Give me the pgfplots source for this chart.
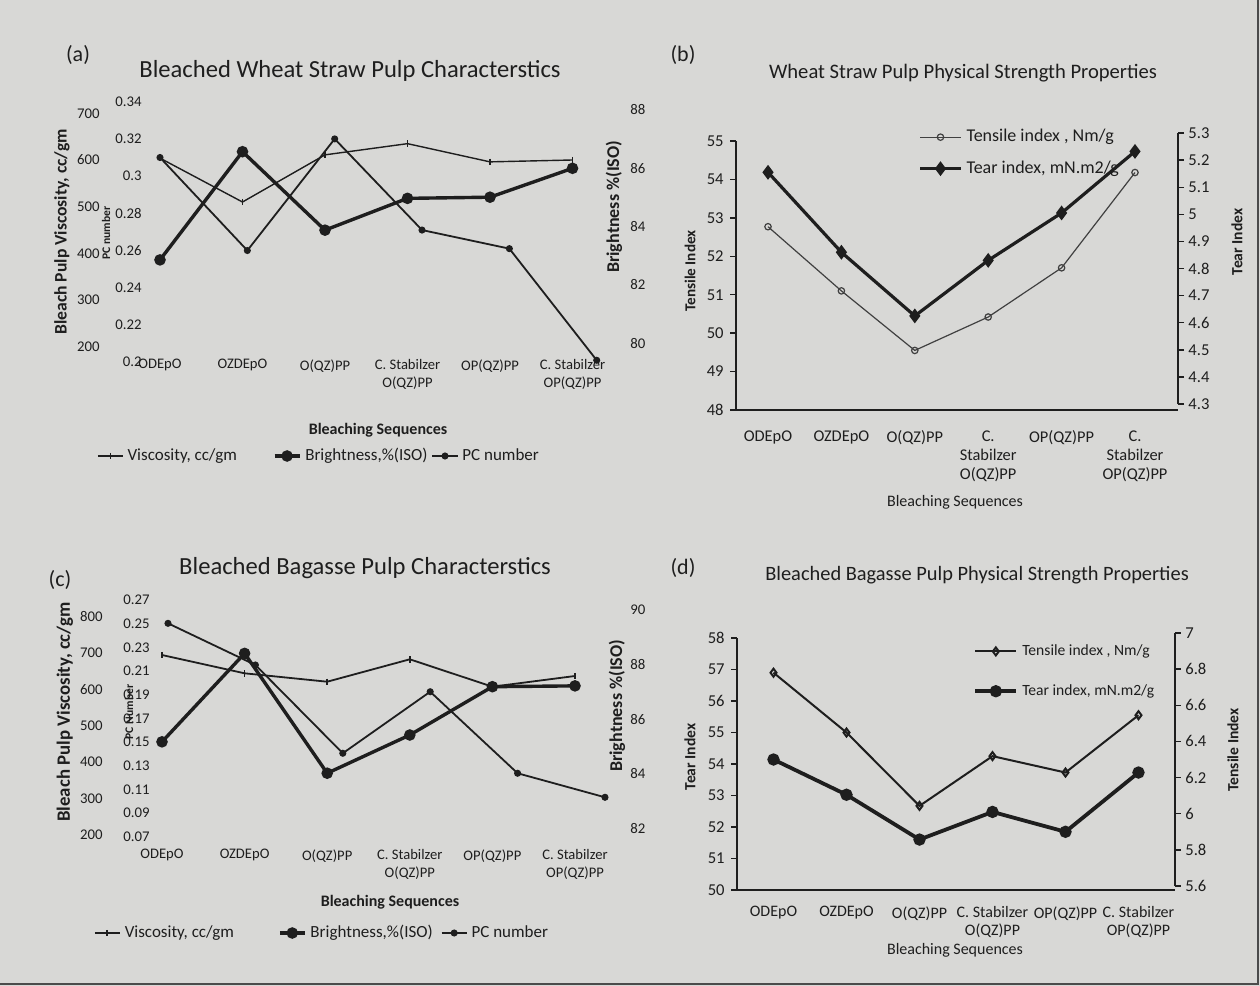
\documentclass[border=0pt]{standalone}
\usepackage{fontspec}
\setmainfont{Carlito}
\usepackage{pgfplots}
\pgfplotsset{compat=1.18}
\definecolor{bg}{HTML}{D8D8D6}
\definecolor{ink}{HTML}{1E1E1E}
\newcommand{\fsz}[2]{\fontsize{#1}{#2}\selectfont}
\pgfplotsset{
  every axis title shift=0pt,
  every axis/.append style={scale only axis, clip=false, anchor=south west},
  noframe/.style={axis line style={draw=none}, major tick length=0pt},
  catlabels/.style={xtick={0,1,2,3,4,5},
    xticklabels={ODEpO,OZDEpO,O(QZ)PP,{C. Stabilzer\\O(QZ)PP},OP(QZ)PP,{C. Stabilzer\\OP(QZ)PP}}},
  shortleg/.style={legend image code/.code={\draw[mark repeat=2,mark phase=2,##1] plot coordinates {(0cm,0cm) (0.22cm,0cm) (0.44cm,0cm)};}},
  longleg/.style={legend image code/.code={\draw[mark repeat=2,mark phase=2,##1] plot coordinates {(0cm,0cm) (0.36cm,0cm) (0.72cm,0cm)};}},
}
\begin{document}
\begin{tikzpicture}[text=ink]
\useasboundingbox (0,0) rectangle (630pt,-493pt);
\fill[bg] (0,0) rectangle (630pt,-493pt);
\draw[ink!80, line width=1.2pt] (629pt,0pt) -- (629pt,-492pt) -- (0pt,-492pt);

% ================= Panel (a) =================
\begin{axis}[noframe, at={(65pt,-185pt)}, width=242.5pt, height=137.5pt,
  xmin=-0.3636, xmax=5.5152, ymin=150.1, ymax=739.2, catlabels,
  xticklabel style={font=\fsz{7.3}{9}, align=center, anchor=north, inner sep=0pt, yshift=5.5pt},
  ytick={200,300,400,500,600,700}, yticklabels={200,300,400,500,600,700},
  yticklabel style={font=\fsz{7.4}{9}, anchor=east, inner sep=0pt, xshift=-15pt},
  title={Bleached Wheat Straw Pulp Characterstics},
  title style={at={(axis description cs:0.4536,1.0982)}, anchor=center, yshift=-1.5pt, font=\fsz{12.3}{14}},
  xlabel={Bleaching Sequences},
  xlabel style={at={(axis description cs:0.5113,-0.2182)}, anchor=center, font=\bfseries\fsz{8}{10}},
  ylabel={Bleach Pulp Viscosity, cc/gm},
  ylabel style={at={(axis description cs:-0.1402,0.502)}, anchor=center, font=\bfseries\fsz{8.8}{10}},
]
\addplot[ink, line width=0.7pt, mark=|, mark size=1.6pt] coordinates {(0,604) (1,510) (2,611) (3,635) (4,596) (5,600)};
\end{axis}
\begin{axis}[noframe, at={(65pt,-185pt)}, width=242.5pt, height=137.5pt,
  xmin=-0.3435, xmax=5.2095, ymin=0.19576, ymax=0.3436, xtick=\empty,
  ytick={0.2,0.22,0.24,0.26,0.28,0.3,0.32,0.34}, yticklabels={0.2,0.22,0.24,0.26,0.28,0.3,0.32,0.34},
  yticklabel style={font=\fsz{7.4}{9}, anchor=east, inner sep=0pt, xshift=6pt},
  ylabel={PC number},
  ylabel style={at={(axis description cs:-0.0495,0.498)}, anchor=center, font=\bfseries\fsz{5.8}{7}},
]
\addplot[ink, line width=0.9pt, mark=*, mark size=1.3pt] coordinates {(0,0.310) (1,0.260) (2,0.320) (3,0.271) (4,0.261) (5,0.201)};
\end{axis}
\begin{axis}[noframe, at={(65pt,-185pt)}, width=242.5pt, height=137.5pt,
  xmin=-0.3636, xmax=5.5152, ymin=79.084, ymax=88.514, xtick=\empty,
  ytick={80,82,84,86,88}, yticklabels={80,82,84,86,88}, yticklabel pos=right,
  yticklabel style={font=\fsz{7.4}{9}, anchor=west, inner sep=0pt, xshift=7.5pt},
  ylabel={Brightness \%(ISO)},
  ylabel style={at={(axis description cs:0.998,0.5927)}, anchor=center, font=\bfseries\fsz{9}{10}},
  shortleg, legend columns=3,
  legend style={at={(axis description cs:0.3918,-0.3127)}, anchor=center, draw=none, fill=none,
    font=\fsz{8.5}{10}, /tikz/column 2/.style={column sep=16pt}, /tikz/column 4/.style={column sep=0pt}},
]
\addlegendimage{ink, line width=0.7pt, mark=|, mark size=1.6pt}
\addlegendentry{Viscosity, cc/gm}
\addplot[ink, line width=1.7pt, mark=*, mark size=2pt] coordinates {(0,82.86) (1,86.57) (2,83.88) (3,84.97) (4,85.01) (5,86.0)};
\addlegendentry{Brightness,\%(ISO)}
\addlegendimage{ink, line width=0.9pt, mark=*, mark size=1.3pt}
\addlegendentry{PC number}
\end{axis}

% ================= Panel (c) =================
\begin{axis}[noframe, at={(65pt,-425pt)}, width=245pt, height=130pt,
  xmin=-0.3874, xmax=5.5448, ymin=158.7, ymax=873.4, catlabels,
  xticklabel style={font=\fsz{7.3}{9}, align=center, anchor=north, inner sep=0pt, yshift=0.5pt},
  ytick={200,300,400,500,600,700,800}, yticklabels={200,300,400,500,600,700,800},
  yticklabel style={font=\fsz{7.4}{9}, anchor=east, inner sep=0pt, xshift=-13.5pt},
  title={Bleached Bagasse Pulp Characterstics},
  title style={at={(axis description cs:0.4796,1.0962)}, anchor=center, yshift=-1.5pt, font=\fsz{12.3}{14}},
  xlabel={Bleaching Sequences},
  xlabel style={at={(axis description cs:0.5306,-0.2)}, anchor=center, font=\bfseries\fsz{8}{10}},
  ylabel={Bleach Pulp Viscosity, cc/gm},
  ylabel style={at={(axis description cs:-0.1327,0.5308)}, anchor=center, font=\bfseries\fsz{9.4}{10}},
]
\addplot[ink, line width=0.9pt, mark=|, mark size=1.6pt] coordinates {(0,694.7) (1,644.4) (2,621.3) (3,682.9) (4,607.6) (5,637)};
\end{axis}
\begin{axis}[noframe, at={(65pt,-425pt)}, width=245pt, height=130pt,
  xmin=-0.4348, xmax=5.1716, ymin=0.05875, ymax=0.27845, xtick=\empty,
  ytick={0.07,0.09,0.11,0.13,0.15,0.17,0.19,0.21,0.23,0.25,0.27},
  yticklabels={0.07,0.09,0.11,0.13,0.15,0.17,0.19,0.21,0.23,0.25,0.27},
  yticklabel style={font=\fsz{7.4}{9}, anchor=east, inner sep=0pt, xshift=10pt},
  ylabel={PC Number},
  ylabel style={at={(axis description cs:-0.002,0.5308)}, anchor=center, font=\bfseries\fsz{5.8}{7}},
]
\addplot[ink, line width=0.9pt, mark=*, mark size=1.3pt] coordinates {(0,0.2503) (1,0.2151) (2,0.1405) (3,0.1925) (4,0.1236) (5,0.1033)};
\end{axis}
\begin{axis}[noframe, at={(65pt,-425pt)}, width=245pt, height=130pt,
  xmin=-0.3874, xmax=5.5448, ymin=81.206, ymax=90.733, xtick=\empty,
  ytick={82,84,86,88,90}, yticklabels={82,84,86,88,90}, yticklabel pos=right,
  yticklabel style={font=\fsz{7.4}{9}, anchor=west, inner sep=0pt, xshift=5pt},
  ylabel={Brightness \%(ISO)},
  ylabel style={at={(axis description cs:0.9939,0.5538)}, anchor=center, font=\bfseries\fsz{9}{10}},
  shortleg, legend columns=3,
  legend style={at={(axis description cs:0.3939,-0.3192)}, anchor=center, draw=none, fill=none,
    font=\fsz{8.5}{10}, /tikz/column 2/.style={column sep=20pt}, /tikz/column 4/.style={column sep=2pt}},
]
\addlegendimage{ink, line width=0.9pt, mark=|, mark size=1.6pt}
\addlegendentry{Viscosity, cc/gm}
\addplot[ink, line width=1.7pt, mark=*, mark size=2pt] coordinates {(0,85.17) (1,88.41) (2,84.02) (3,85.42) (4,87.19) (5,87.22)};
\addlegendentry{Brightness,\%(ISO)}
\addlegendimage{ink, line width=0.9pt, mark=*, mark size=1.3pt}
\addlegendentry{PC number}
\end{axis}

% ================= Panel (b) =================
\begin{axis}[at={(368pt,-205pt)}, width=221pt, height=134.5pt,
  xmin=-0.436, xmax=5.586, ymin=48, ymax=55,
  axis x line*=bottom, axis y line*=left,
  x axis line style={ink, line width=1.3pt, -}, y axis line style={ink, line width=0.8pt, -},
  xtick={0,1,2,3,4,5},
  xticklabels={ODEpO,OZDEpO,O(QZ)PP,{C.\\Stabilzer\\O(QZ)PP},OP(QZ)PP,{C.\\Stabilzer\\OP(QZ)PP}},
  major x tick style={draw=none},
  xticklabel style={font=\fsz{8.2}{9.6}, align=center, anchor=north, inner sep=0pt, yshift=-7pt},
  ytick={48,49,50,51,52,53,54,55}, yticklabels={48,49,50,51,52,53,54,55},
  tick align=outside, major tick length=3pt, major y tick style={ink, line width=0.7pt},
  yticklabel style={font=\fsz{8.3}{10}, anchor=east, inner sep=0pt, xshift=-3pt},
  title={Wheat Straw Pulp Physical Strength Properties},
  title style={at={(axis description cs:0.5136,1.2639)}, anchor=center, yshift=-1.5pt, font=\fsz{10.3}{12}},
  xlabel={Bleaching Sequences},
  xlabel style={at={(axis description cs:0.4955,-0.342)}, anchor=center, font=\fsz{8}{10}},
  ylabel={Tensile Index},
  ylabel style={at={(axis description cs:-0.1041,0.5167)}, anchor=center, font=\bfseries\fsz{7.6}{9}},
]
\addplot[ink!85, line width=0.6pt, mark=o, mark size=1.6pt] coordinates {(0,52.77) (1,51.1) (2,49.55) (3,50.42) (4,51.7) (5,54.18)};
\end{axis}
\begin{axis}[at={(368pt,-202pt)}, width=221pt, height=135.5pt,
  xmin=-0.436, xmax=5.586, ymin=4.3, ymax=5.3,
  axis x line=none, axis y line*=right, y axis line style={ink, line width=0.7pt, -},
  ytick={4.3,4.4,4.5,4.6,4.7,4.8,4.9,5,5.1,5.2,5.3},
  yticklabels={4.3,4.4,4.5,4.6,4.7,4.8,4.9,5,5.1,5.2,5.3},
  tick align=outside, major tick length=3pt, major y tick style={ink, line width=0.7pt},
  yticklabel style={font=\fsz{8.3}{10}, anchor=west, inner sep=0pt, xshift=2pt},
  ylabel={Tear Index},
  ylabel style={at={(axis description cs:1.1335,0.5978)}, anchor=center, font=\bfseries\fsz{7.8}{9}},
  longleg, legend cell align=left,
  legend style={at={(axis description cs:0.4118,1.0295)}, anchor=north west, draw=none, fill=none,
    font=\fsz{9}{11}, row sep=4pt, inner sep=0pt},
]
\addlegendimage{ink!85, line width=0.6pt, mark=o, mark size=1.6pt}
\addlegendentry{Tensile index , Nm/g}
\addplot[ink, line width=1.6pt, mark=diamond*, mark size=2.4pt] coordinates {(0,5.155) (1,4.86) (2,4.625) (3,4.83) (4,5.005) (5,5.232)};
\addlegendentry{Tear index, mN.m2/g}
\end{axis}

% ================= Panel (d) =================
\begin{axis}[at={(368.5pt,-445pt)}, width=219pt, height=126pt,
  xmin=-0.5, xmax=5.5, ymin=50, ymax=58,
  axis x line*=bottom, axis y line*=left,
  x axis line style={ink, line width=1.3pt, -}, y axis line style={ink, line width=0.8pt, -},
  catlabels, major x tick style={draw=none},
  xticklabel style={font=\fsz{8}{8.8}, align=center, anchor=north, inner sep=0pt, yshift=-5pt},
  ytick={50,51,52,53,54,55,56,57,58}, yticklabels={50,51,52,53,54,55,56,57,58},
  tick align=outside, major tick length=3pt, major y tick style={ink, line width=0.7pt},
  yticklabel style={font=\fsz{8.3}{10}, anchor=east, inner sep=0pt, xshift=-3pt},
  title={Bleached Bagasse Pulp Physical Strength Properties},
  title style={at={(axis description cs:0.548,1.2619)}, anchor=center, yshift=-1.5pt, font=\fsz{10.2}{12}},
  xlabel={Bleaching Sequences},
  xlabel style={at={(axis description cs:0.4977,-0.238)}, anchor=center, font=\fsz{8}{10}},
  ylabel={Tear Index},
  ylabel style={at={(axis description cs:-0.1073,0.5278)}, anchor=center, font=\bfseries\fsz{7.8}{9}},
]
\addplot[ink, line width=1pt, mark=diamond, mark size=2pt] coordinates {(0,56.9) (1,55.0) (2,52.67) (3,54.25) (4,53.73) (5,55.55)};
\end{axis}
\begin{axis}[at={(368.5pt,-443pt)}, width=219pt, height=126.5pt,
  xmin=-0.5, xmax=5.5, ymin=5.6, ymax=7,
  axis x line=none, axis y line*=right, y axis line style={ink, line width=0.7pt, -},
  ytick={5.6,5.8,6,6.2,6.4,6.6,6.8,7}, yticklabels={5.6,5.8,6,6.2,6.4,6.6,6.8,7},
  tick align=outside, major tick length=3pt, major y tick style={ink, line width=0.7pt},
  yticklabel style={font=\fsz{8.3}{10}, anchor=west, inner sep=0pt, xshift=2pt},
  ylabel={Tensile Index},
  ylabel style={at={(axis description cs:1.1324,0.5375)}, anchor=center, font=\bfseries\fsz{7.8}{9}},
  longleg, legend cell align=left,
  legend style={at={(axis description cs:0.539,0.972)}, anchor=north west, draw=none, fill=none,
    font=\fsz{7.8}{10}, row sep=9pt, inner sep=0pt},
]
\addlegendimage{ink, line width=1pt, mark=diamond, mark size=2pt}
\addlegendentry{Tensile index , Nm/g}
\addplot[ink, line width=1.9pt, mark=*, mark size=2.1pt] coordinates {(0,6.30) (1,6.105) (2,5.857) (3,6.01) (4,5.9) (5,6.228)};
\addlegendentry{Tear index, mN.m2/g}
\end{axis}

\node[font=\fsz{11}{13}] at (39pt,-27.5pt) {(a)};
\node[font=\fsz{11}{13}] at (341.5pt,-27.5pt) {(b)};
\node[font=\fsz{11}{13}] at (30pt,-290pt) {(c)};
\node[font=\fsz{11}{13}] at (341.5pt,-284pt) {(d)};
\end{tikzpicture}
\end{document}
